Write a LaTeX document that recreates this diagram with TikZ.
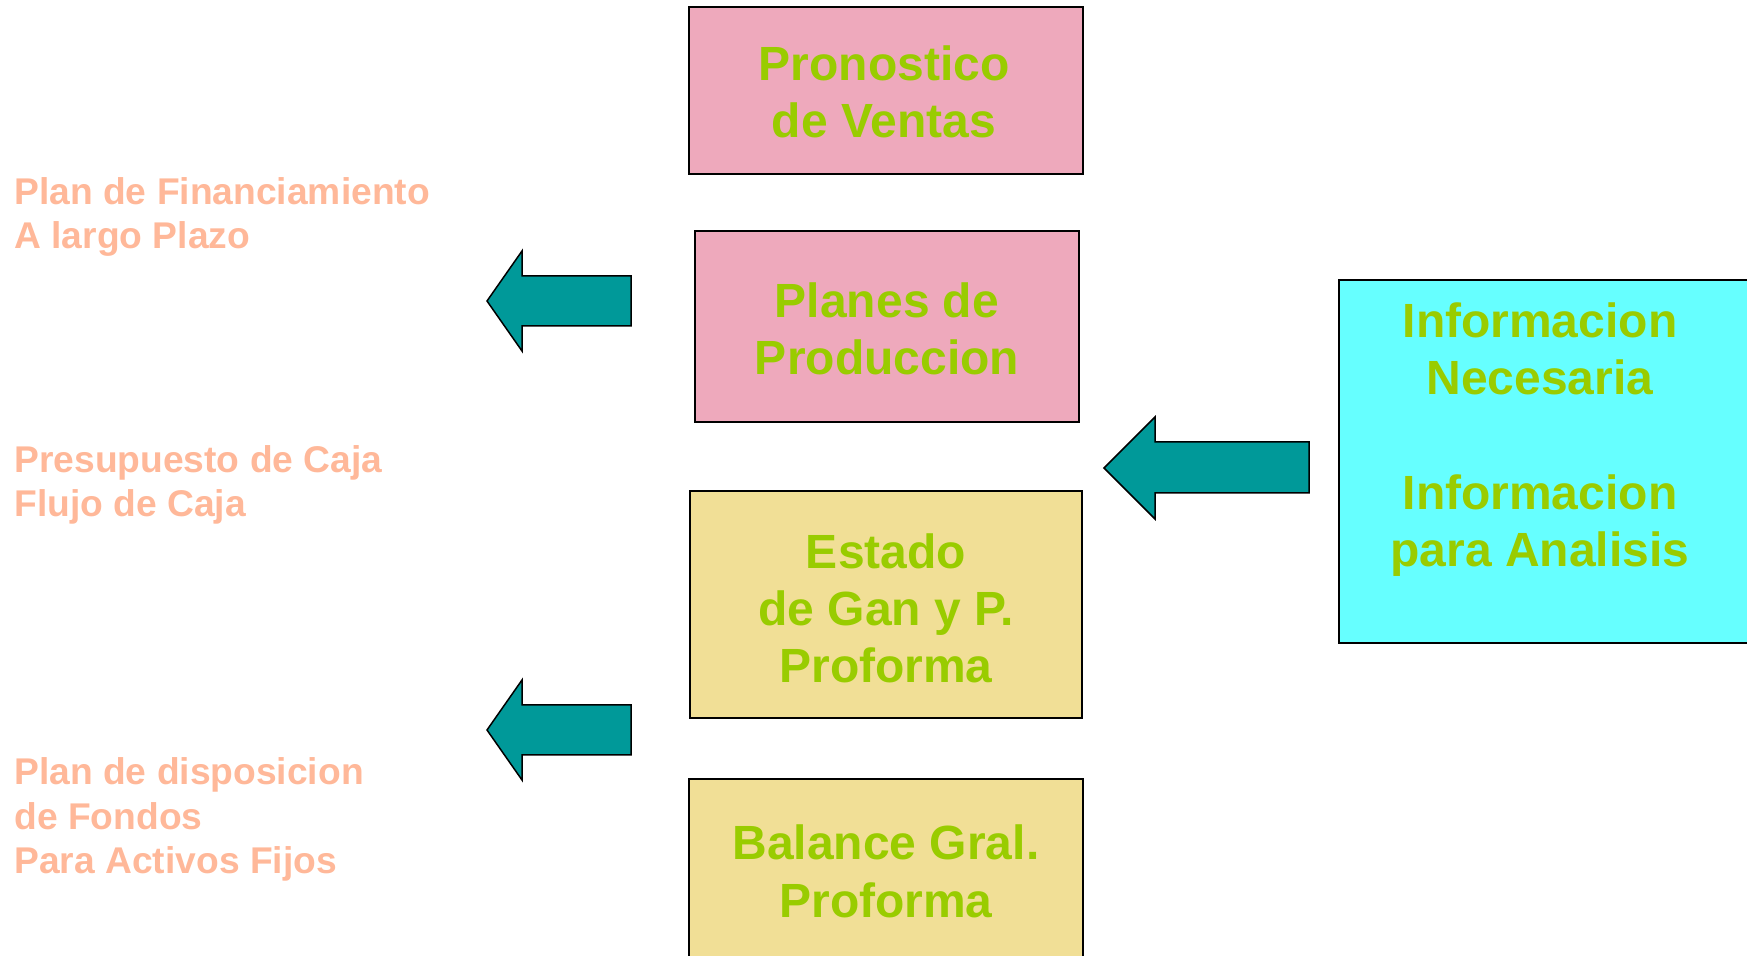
\documentclass[tikz,border=0pt]{standalone}
\usepackage{fontspec}
\setmainfont{Liberation Sans}
\definecolor{boxpink}{HTML}{EEA9BC}
\definecolor{boxyellow}{HTML}{F1DF96}
\definecolor{boxcyan}{HTML}{66FFFF}
\definecolor{arrowteal}{HTML}{009999}
\definecolor{txtgreen}{HTML}{99CC00}
\definecolor{txtsalmon}{HTML}{FFB899}
\begin{document}
\begin{tikzpicture}[x=0.5pt,y=-0.5pt,
  boxshape/.style={draw=black,line width=1pt},
  boxtext/.style={anchor=base,align=center,inner sep=0pt,text=txtgreen,font=\fontsize{24}{28.7}\selectfont\bfseries},
  sidetext/.style={anchor=base west,align=left,inner sep=0pt,text=txtsalmon,font=\fontsize{18.6}{22.3}\selectfont\bfseries},
  blockarrow/.style={draw=black,line width=0.75pt,fill=arrowteal,line join=miter}]
\useasboundingbox (0,0) rectangle (1747,956);
\clip (0,0) rectangle (1747,956);
% boxes
\path[boxshape,fill=boxpink] (689,7) rectangle (1083,174);
\path[boxshape,fill=boxpink] (695,231) rectangle (1079,422);
\path[boxshape,fill=boxyellow] (690,491) rectangle (1082,718);
\path[boxshape,fill=boxyellow] (689,779) rectangle (1083,970);
\path[boxshape,fill=boxcyan] (1339,280) rectangle (1800,643);
% box texts (anchored at the baseline of the last line)
\node[boxtext] (pron) at (884,138) {Pronostico\\de Ventas};
\node[boxtext] (prod) at (887,375) {Planes de\\Produccion};
\node[boxtext] (estado) at (886,683) {Estado\\de Gan y P.\\Proforma};
\node[boxtext] (balance) at (886,917) {Balance Gral.\\Proforma};
\node[boxtext] (info) at (1540,567) {Informacion\\Necesaria\\[28.7pt]Informacion\\para Analisis};
% side texts
\node[sidetext] (fin) at (14,249) {Plan de Financiamiento\\A largo Plazo};
\node[sidetext] (caja) at (14,517) {Presupuesto de Caja\\Flujo de Caja};
\node[sidetext] (fondos) at (14,874) {Plan de disposicion\\de Fondos\\Para Activos Fijos};
% arrows
\draw[blockarrow] (631,276) -- (522,276) -- (522,251) -- (487,301) -- (522,351) -- (522,326) -- (631,326) -- cycle;
\draw[blockarrow] (631,705) -- (522,705) -- (522,680) -- (487,730) -- (522,780) -- (522,755) -- (631,755) -- cycle;
\draw[blockarrow] (1309,442) -- (1155,442) -- (1155,417) -- (1104,468) -- (1155,519) -- (1155,493) -- (1309,493) -- cycle;
\end{tikzpicture}
\end{document}
